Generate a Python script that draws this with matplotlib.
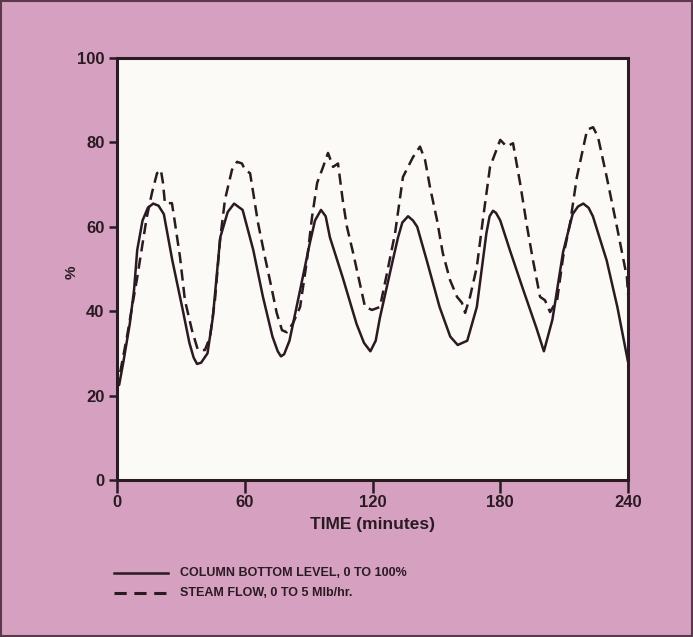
import matplotlib
matplotlib.use("Agg")
import matplotlib.pyplot as plt
from matplotlib.lines import Line2D
from matplotlib.patches import Rectangle

# ---- data ----
level_t = [1, 3, 6, 8, 9.5, 12, 14.5, 17, 19.5, 22, 26, 31, 34, 36, 37.6, 39.5,
           42.5, 45, 48.5, 52, 55, 59, 64, 68.5, 73, 75.5, 77, 78.5, 81, 86, 90.5, 93,
           95.8, 98, 100, 106, 112.5, 116, 119, 121.5, 123.5, 129.5, 132, 134, 136.7, 139, 141,
           145.5, 151.5, 156.5, 160, 164.5, 169, 173.5, 175, 176.6, 178, 180, 184.5,
           190.5, 197, 200.5, 204.5, 209.5, 214, 216.5, 219, 221.5, 223.5, 230, 235, 240]
level_y = [22.5, 28, 37, 45, 54.5, 61.5, 64.5, 65.5, 65, 63, 52, 40, 32.5, 29, 27.5, 27.8,
           30, 38.5, 57.5, 63.5, 65.5, 64, 54.5, 43.5, 34, 30.5, 29.3, 29.8, 33, 45, 56, 61.5,
           64, 62.5, 57.5, 48, 37, 32.5, 30.5, 33, 38.5, 52, 57.5, 61, 62.5, 61.5, 60,
           52, 41, 34, 32, 33, 41, 58.5, 62.5, 63.8, 63.3, 61.5, 54.5,
           45.5, 36, 30.5, 38, 54, 63, 64.8, 65.5, 64.5, 62.5, 52, 41, 28]

steam_t = [0, 2.8, 4.7, 7, 9.5, 12, 14, 16.4, 18.8, 20.6, 21.6, 22.5, 25.8, 27.2, 29.6,
           31.9, 35.2, 38, 41.3, 43.7, 46, 48.4, 50.7, 54, 56.4, 58.7, 60.1, 62.5, 64, 66.2,
           69.5, 72.8, 75, 77.5, 79.8, 82.7, 86, 89.2, 91.6, 94, 96.8, 99.1, 101.5, 103.8, 106,
           108, 110.9, 114, 116.5, 119.8, 123.5, 126.8, 130.6, 134.3, 139, 142.3, 144.7, 147,
           150.3, 153, 156.4, 159.7, 162, 163.5, 165.8, 169, 172, 175.2, 180, 183, 186, 189.3,
           192.6, 195.4, 198.7, 201, 203.4, 206.7, 209.5, 212.8, 216, 220.8, 223.6, 225.9,
           230, 234.8, 239.5, 240]
steam_y = [21.5, 29, 34, 40.8, 48, 56, 62.3, 68, 72.7, 73.5, 70.4, 65.6, 65.6, 61, 52.8,
           42.6, 35.5, 30.8, 30.8, 33.9, 42.6, 56.9, 66.4, 73.5, 75.4, 75, 73.5, 72.7, 68, 61,
           52.8, 45, 39.6, 35.5, 35, 37.2, 41, 52, 62.3, 70.4, 74.2, 77.5, 74.2, 75, 66.4,
           60, 53.8, 46.7, 41, 40.3, 41, 49, 58.5, 71.8, 76.5, 79, 75.8, 69.4,
           61.6, 53.8, 47.4, 43.4, 42, 39.6, 43.4, 50.5, 62.3, 74.2, 80.6, 79, 79.8, 70.4,
           60, 52, 43.4, 42.6, 39.8, 42.6, 52.8, 60.9, 71.8, 83, 83.6, 81.3,
           71.8, 60, 48, 44]

x_ticks = [0, 60, 120, 180, 240]
y_ticks = [0, 20, 40, 60, 80, 100]
x_label = "TIME (minutes)"
y_label = "%"
legend_labels = ["COLUMN BOTTOM LEVEL, 0 TO 100%", "STEAM FLOW, 0 TO 5 Mlb/hr."]

# ---- styling ----
BG = "#d6a1c1"
INK = "#2a1a22"
FONT = "Liberation Sans"

fig = plt.figure(figsize=(6.93, 6.37), dpi=100, facecolor=BG)
ax = fig.add_axes([117/693, 1 - 480/637, 511/693, 422/637])
ax.set_facecolor("#fcfaf6")

ax.plot(level_t, level_y, color=INK, lw=1.8, solid_joinstyle="round", solid_capstyle="round")
ax.plot(steam_t, steam_y, color=INK, lw=1.8, dashes=(4.5, 2.5))

ax.set_xlim(0, 240)
ax.set_ylim(0, 100)
ax.set_xticks(x_ticks)
ax.set_yticks(y_ticks)
ax.set_xticklabels([str(v) for v in x_ticks], fontfamily=FONT, fontweight="bold", fontsize=12, color=INK)
ax.set_yticklabels([str(v) for v in y_ticks], fontfamily=FONT, fontweight="bold", fontsize=12, color=INK)
ax.tick_params(axis="x", direction="out", length=9, width=1.8, color=INK, pad=2)
ax.tick_params(axis="y", direction="out", length=6, width=1.8, color=INK, pad=3)
for s in ax.spines.values():
    s.set_color(INK)
    s.set_linewidth(2.2)

ax.set_xlabel(x_label, fontfamily=FONT, fontweight="bold", fontsize=12.5, color=INK, labelpad=5)
ax.set_ylabel(y_label, fontfamily=FONT, fontweight="bold", fontsize=11, color=INK)
ax.yaxis.set_label_coords(-0.076, 0.493)

# legend (figure coordinates)
W, H = 693, 637
rows = [(573, "-", legend_labels[0]), (593, "--", legend_labels[1])]
for yp, ls, lab in rows:
    yf = 1 - yp / H
    if ls == "-":
        ln = Line2D([114 / W, 168 / W], [yf, yf], transform=fig.transFigure,
                    color=INK, lw=1.8)
    else:
        ln = Line2D([114 / W, 168 / W], [yf, yf], transform=fig.transFigure,
                    color=INK, lw=2.2, dashes=(4, 2.5))
    fig.add_artist(ln)
    fig.text(180 / W, yf, lab, fontfamily=FONT, fontweight="bold", fontsize=9,
             color=INK, va="center", ha="left")

# figure border
fig.add_artist(Rectangle((0.002, 0.002), 0.996, 0.996, transform=fig.transFigure,
                         fill=False, edgecolor="#5a3a4a", lw=1.5))

fig.savefig("out.png", dpi=100, facecolor=BG)
